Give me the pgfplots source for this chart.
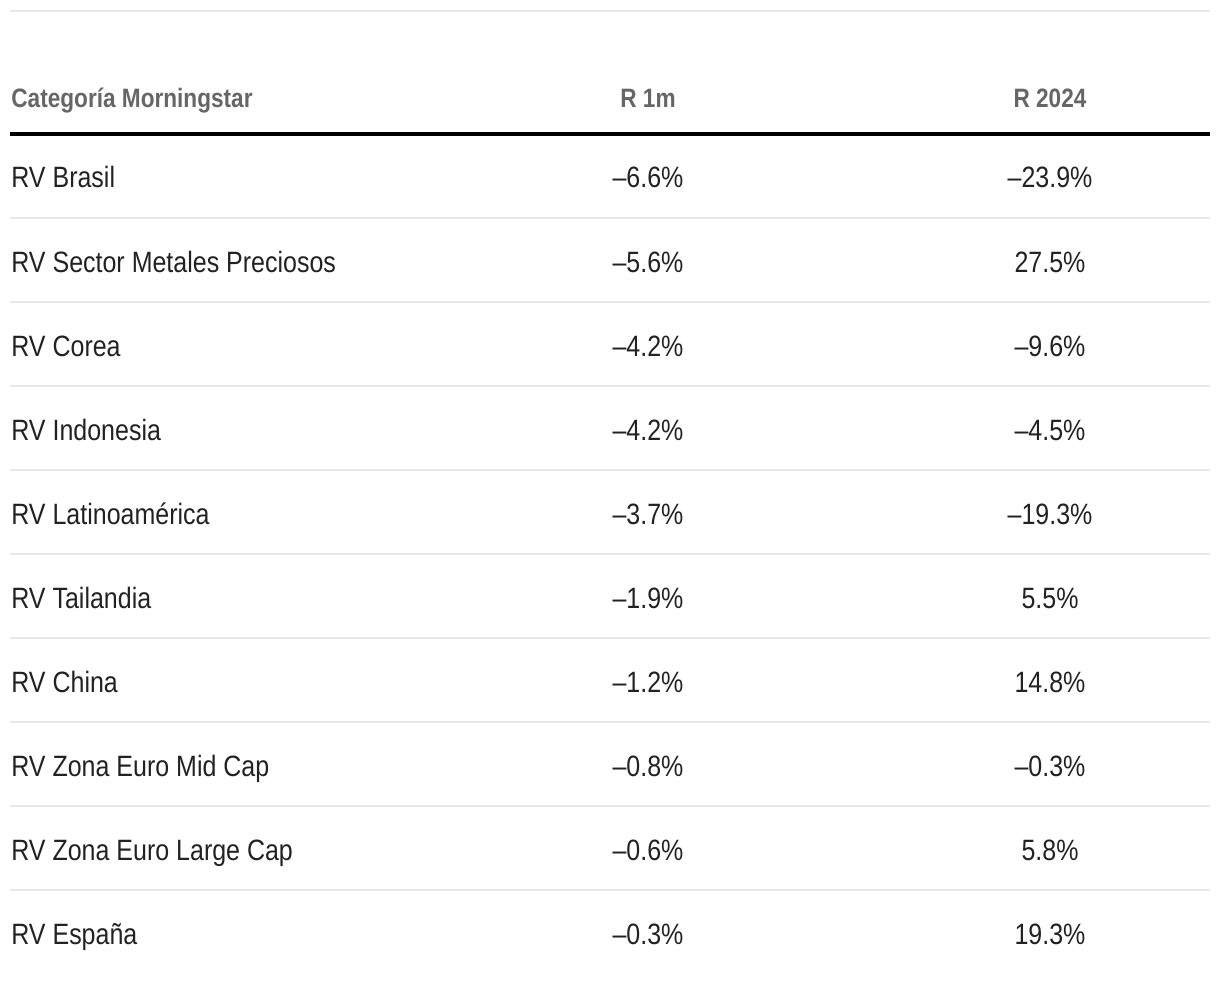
\documentclass[border=0pt]{standalone}
\usepackage{fontspec}
\setmainfont{Liberation Sans}[FakeStretch=0.85]
\usepackage{pgfplots}
\usepackage{pgfplotstable}
\pgfplotsset{compat=1.18}
\definecolor{rowtext}{HTML}{222222}
\definecolor{headtext}{HTML}{666666}
\definecolor{rule}{HTML}{E8E8E8}
\definecolor{thick}{HTML}{333333}
\pgfplotstableread[col sep=comma,row sep=\\]{
name,r1m,r2024\\
RV Brasil,-6.6,-23.9\\
RV Sector Metales Preciosos,-5.6,27.5\\
RV Corea,-4.2,-9.6\\
RV Indonesia,-4.2,-4.5\\
RV Latinoamérica,-3.7,-19.3\\
RV Tailandia,-1.9,5.5\\
RV China,-1.2,14.8\\
RV Zona Euro Mid Cap,-0.8,-0.3\\
RV Zona Euro Large Cap,-0.6,5.8\\
RV España,-0.3,19.3\\
}\datatable
\def\fmtpct#1{\expandafter\fmtpcti#1\relax}
\def\fmtpcti#1#2\relax{\ifx-#1–#2\else#1#2\fi\%}
\begin{document}
\begin{tikzpicture}
\begin{axis}[
  width=610pt, height=492pt, scale only axis,
  xmin=0, xmax=1220, ymin=0, ymax=984, y dir=reverse,
  hide axis, clip=false,
]
\path (rel axis cs:0,0) rectangle (rel axis cs:1,1);
% rules
\draw[rule, line width=1pt] (axis cs:10,11) -- (axis cs:1210,11);
\draw[thick, line width=2pt] (axis cs:10,134) -- (axis cs:1210,134);
\foreach \yy in {218,302,386,470,554,638,722,806,890}{
  \edef\tmp{\noexpand\draw[rule, line width=1pt] (axis cs:10,\yy) -- (axis cs:1210,\yy);}\tmp
}
% header
\node[anchor=base west, inner sep=0pt, text=headtext, font=\fontsize{13.3pt}{16pt}\selectfont\bfseries] at (axis cs:11,108) {Categoría Morningstar};
\node[anchor=base, inner sep=0pt, text=headtext, font=\fontsize{13.3pt}{16pt}\selectfont\bfseries] at (axis cs:648,108) {R 1m};
\node[anchor=base, inner sep=0pt, text=headtext, font=\fontsize{13.3pt}{16pt}\selectfont\bfseries] at (axis cs:1050,108) {R 2024};
% names
\addplot[draw=none, no markers, point meta=explicit symbolic,
  nodes near coords={\pgfplotspointmeta},
  every node near coord/.append style={anchor=base west, inner sep=0pt, text=rowtext, font=\fontsize{14.7pt}{17pt}\selectfont}]
  table[x expr=11, y expr={188+84*\coordindex}, meta=name]{\datatable};
% R 1m
\addplot[draw=none, no markers, point meta=explicit symbolic,
  nodes near coords={\fmtpct{\pgfplotspointmeta}},
  every node near coord/.append style={anchor=base, inner sep=0pt, text=rowtext, font=\fontsize{14.7pt}{17pt}\selectfont}]
  table[x expr=648, y expr={188+84*\coordindex}, meta=r1m]{\datatable};
% R 2024
\addplot[draw=none, no markers, point meta=explicit symbolic,
  nodes near coords={\fmtpct{\pgfplotspointmeta}},
  every node near coord/.append style={anchor=base, inner sep=0pt, text=rowtext, font=\fontsize{14.7pt}{17pt}\selectfont}]
  table[x expr=1050, y expr={188+84*\coordindex}, meta=r2024]{\datatable};
\end{axis}
\end{tikzpicture}
\end{document}
